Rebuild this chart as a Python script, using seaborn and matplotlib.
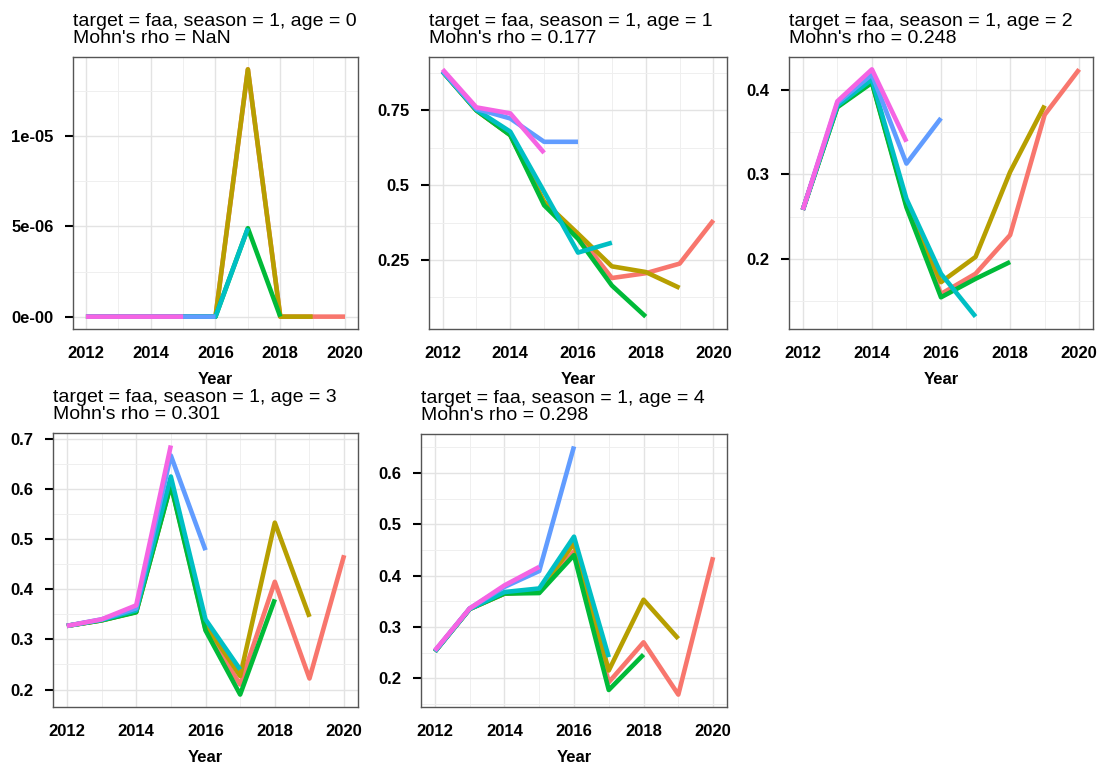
import numpy as np
import pandas as pd
import matplotlib
matplotlib.use("Agg")
import matplotlib.pyplot as plt
from matplotlib.ticker import FixedLocator, FixedFormatter, MultipleLocator
import seaborn as sns

sns.set_theme(style="white")
plt.rcParams['font.family'] = ['Liberation Sans', 'DejaVu Sans']

years = list(range(2012, 2021))
peels = [2020, 2019, 2018, 2017, 2016, 2015]
peel_colors = ["#F8766D", "#B79F00", "#00BA38", "#00BFC4", "#619CFF", "#F564E3"]

titles = [
    "target = faa, season = 1, age = 0\nMohn's rho = NaN",
    "target = faa, season = 1, age = 1\nMohn's rho = 0.177",
    "target = faa, season = 1, age = 2\nMohn's rho = 0.248",
    "target = faa, season = 1, age = 3\nMohn's rho = 0.301",
    "target = faa, season = 1, age = 4\nMohn's rho = 0.298",
]

# age 0
age0_2020 = [0, 0, 0, 0, 0, 1.37e-5, 0, 0, 0]
age0_2019 = [0, 0, 0, 0, 0, 1.37e-5, 0, 0]
age0_2018 = [0, 0, 0, 0, 0, 4.9e-6, 0]
age0_2017 = [0, 0, 0, 0, 0, 4.9e-6]
age0_2016 = [0, 0, 0, 0, 0]
age0_2015 = [0, 0, 0, 0]

# age 1
age1_2020 = [0.880, 0.750, 0.668, 0.440, 0.335, 0.190, 0.206, 0.238, 0.383]
age1_2019 = [0.880, 0.750, 0.668, 0.445, 0.338, 0.229, 0.210, 0.157]
age1_2018 = [0.880, 0.750, 0.667, 0.433, 0.321, 0.165, 0.061]
age1_2017 = [0.880, 0.752, 0.679, 0.478, 0.275, 0.308]
age1_2016 = [0.882, 0.755, 0.723, 0.645, 0.645]
age1_2015 = [0.887, 0.760, 0.740, 0.608]

# age 2
age2_2020 = [0.258, 0.381, 0.410, 0.263, 0.158, 0.182, 0.228, 0.371, 0.425]
age2_2019 = [0.258, 0.381, 0.410, 0.265, 0.172, 0.202, 0.303, 0.382]
age2_2018 = [0.258, 0.380, 0.409, 0.261, 0.154, 0.176, 0.196]
age2_2017 = [0.258, 0.382, 0.413, 0.271, 0.182, 0.131]
age2_2016 = [0.258, 0.385, 0.419, 0.313, 0.367]
age2_2015 = [0.258, 0.387, 0.425, 0.339]

# age 3
age3_2020 = [0.327, 0.338, 0.355, 0.610, 0.320, 0.210, 0.415, 0.222, 0.468]
age3_2019 = [0.327, 0.338, 0.355, 0.610, 0.330, 0.227, 0.533, 0.345]
age3_2018 = [0.327, 0.338, 0.354, 0.608, 0.318, 0.190, 0.380]
age3_2017 = [0.327, 0.339, 0.358, 0.625, 0.340, 0.240]
age3_2016 = [0.327, 0.340, 0.362, 0.667, 0.478]
age3_2015 = [0.327, 0.340, 0.368, 0.687]

# age 4
age4_2020 = [0.252, 0.335, 0.365, 0.368, 0.447, 0.192, 0.270, 0.168, 0.436]
age4_2019 = [0.252, 0.335, 0.365, 0.370, 0.463, 0.215, 0.353, 0.277]
age4_2018 = [0.252, 0.335, 0.365, 0.366, 0.440, 0.177, 0.246]
age4_2017 = [0.252, 0.335, 0.368, 0.375, 0.476, 0.241]
age4_2016 = [0.253, 0.336, 0.378, 0.409, 0.652]
age4_2015 = [0.254, 0.336, 0.381, 0.417]

panel_data = [
    [age0_2020, age0_2019, age0_2018, age0_2017, age0_2016, age0_2015],
    [age1_2020, age1_2019, age1_2018, age1_2017, age1_2016, age1_2015],
    [age2_2020, age2_2019, age2_2018, age2_2017, age2_2016, age2_2015],
    [age3_2020, age3_2019, age3_2018, age3_2017, age3_2016, age3_2015],
    [age4_2020, age4_2019, age4_2018, age4_2017, age4_2016, age4_2015],
]

y_ticks = [
    [0, 5e-6, 1e-5],
    [0.25, 0.5, 0.75],
    [0.2, 0.3, 0.4],
    [0.2, 0.3, 0.4, 0.5, 0.6, 0.7],
    [0.2, 0.3, 0.4, 0.5, 0.6],
]
y_labels = [
    ["0e-00", "5e-06", "1e-05"],
    ["0.25", "0.5", "0.75"],
    ["0.2", "0.3", "0.4"],
    ["0.2", "0.3", "0.4", "0.5", "0.6", "0.7"],
    ["0.2", "0.3", "0.4", "0.5", "0.6"],
]
y_minor = [2.5e-6, 0.125, 0.05, 0.05, 0.05]

W, H = 1100, 770
# panel boxes in pixels: left, right, top, bottom
boxes = [
    (73, 358, 57, 329),
    (429, 727, 57, 329),
    (789, 1093, 57, 329),
    (53, 358, 433, 707),
    (421, 727, 434, 707),
]

fig = plt.figure(figsize=(11, 7.7), dpi=100)
fig.patch.set_facecolor("white")

for i in range(5):
    l, r, t, b = boxes[i]
    ax = fig.add_axes([l / W, 1 - b / H, (r - l) / W, (b - t) / H])
    # draw peels one by one so that the most recent peel ends up on top
    for k, (peel, vals) in enumerate(zip(peels, panel_data[i])):
        df = pd.DataFrame({"Year": years[:len(vals)],
                           "value": np.array(vals, dtype=float)})
        sns.lineplot(data=df, x="Year", y="value", color=peel_colors[k],
                     linewidth=3.3, ax=ax, estimator=None, sort=False,
                     zorder=3 + k, snap=False, solid_capstyle="butt",
                     solid_joinstyle="round")
    allv = np.concatenate([np.array(v, float) for v in panel_data[i]])
    lo, hi = allv.min(), allv.max()
    pad = (hi - lo) * 0.05
    ax.set_ylim(lo - pad, hi + pad)
    ax.set_xlim(2012 - 0.4, 2020 + 0.4)

    ax.xaxis.set_major_locator(FixedLocator([2012, 2014, 2016, 2018, 2020]))
    ax.xaxis.set_minor_locator(FixedLocator([2013, 2015, 2017, 2019]))
    ax.yaxis.set_major_locator(FixedLocator(y_ticks[i]))
    ax.yaxis.set_major_formatter(FixedFormatter(y_labels[i]))
    ax.yaxis.set_minor_locator(MultipleLocator(y_minor[i]))

    ax.grid(True, which="major", color="#E3E3E3", linewidth=1.0)
    ax.grid(True, which="minor", color="#EFEFEF", linewidth=0.7)
    ax.set_axisbelow(True)
    for s in ax.spines.values():
        s.set_color("#555555")
        s.set_linewidth(1.0)
    ax.set_facecolor("white")

    ax.tick_params(axis="x", which="major", length=0, pad=12, labelsize=12,
                   labelcolor="black")
    ax.tick_params(axis="y", which="major", length=6, width=1.5, color="black",
                   direction="out", pad=8, labelsize=12, labelcolor="black", left=True)
    ax.tick_params(which="minor", length=0)
    for lab in ax.get_xticklabels() + ax.get_yticklabels():
        lab.set_fontweight("bold")

    ax.set_xlabel("Year", fontsize=12, fontweight="bold", labelpad=8, color="black")
    ax.set_ylabel("")
    ax.set_title(titles[i], loc="left", fontsize=14, pad=10, linespacing=1.0,
                 color="black")

fig.savefig("out.png", dpi=100, facecolor="white")
